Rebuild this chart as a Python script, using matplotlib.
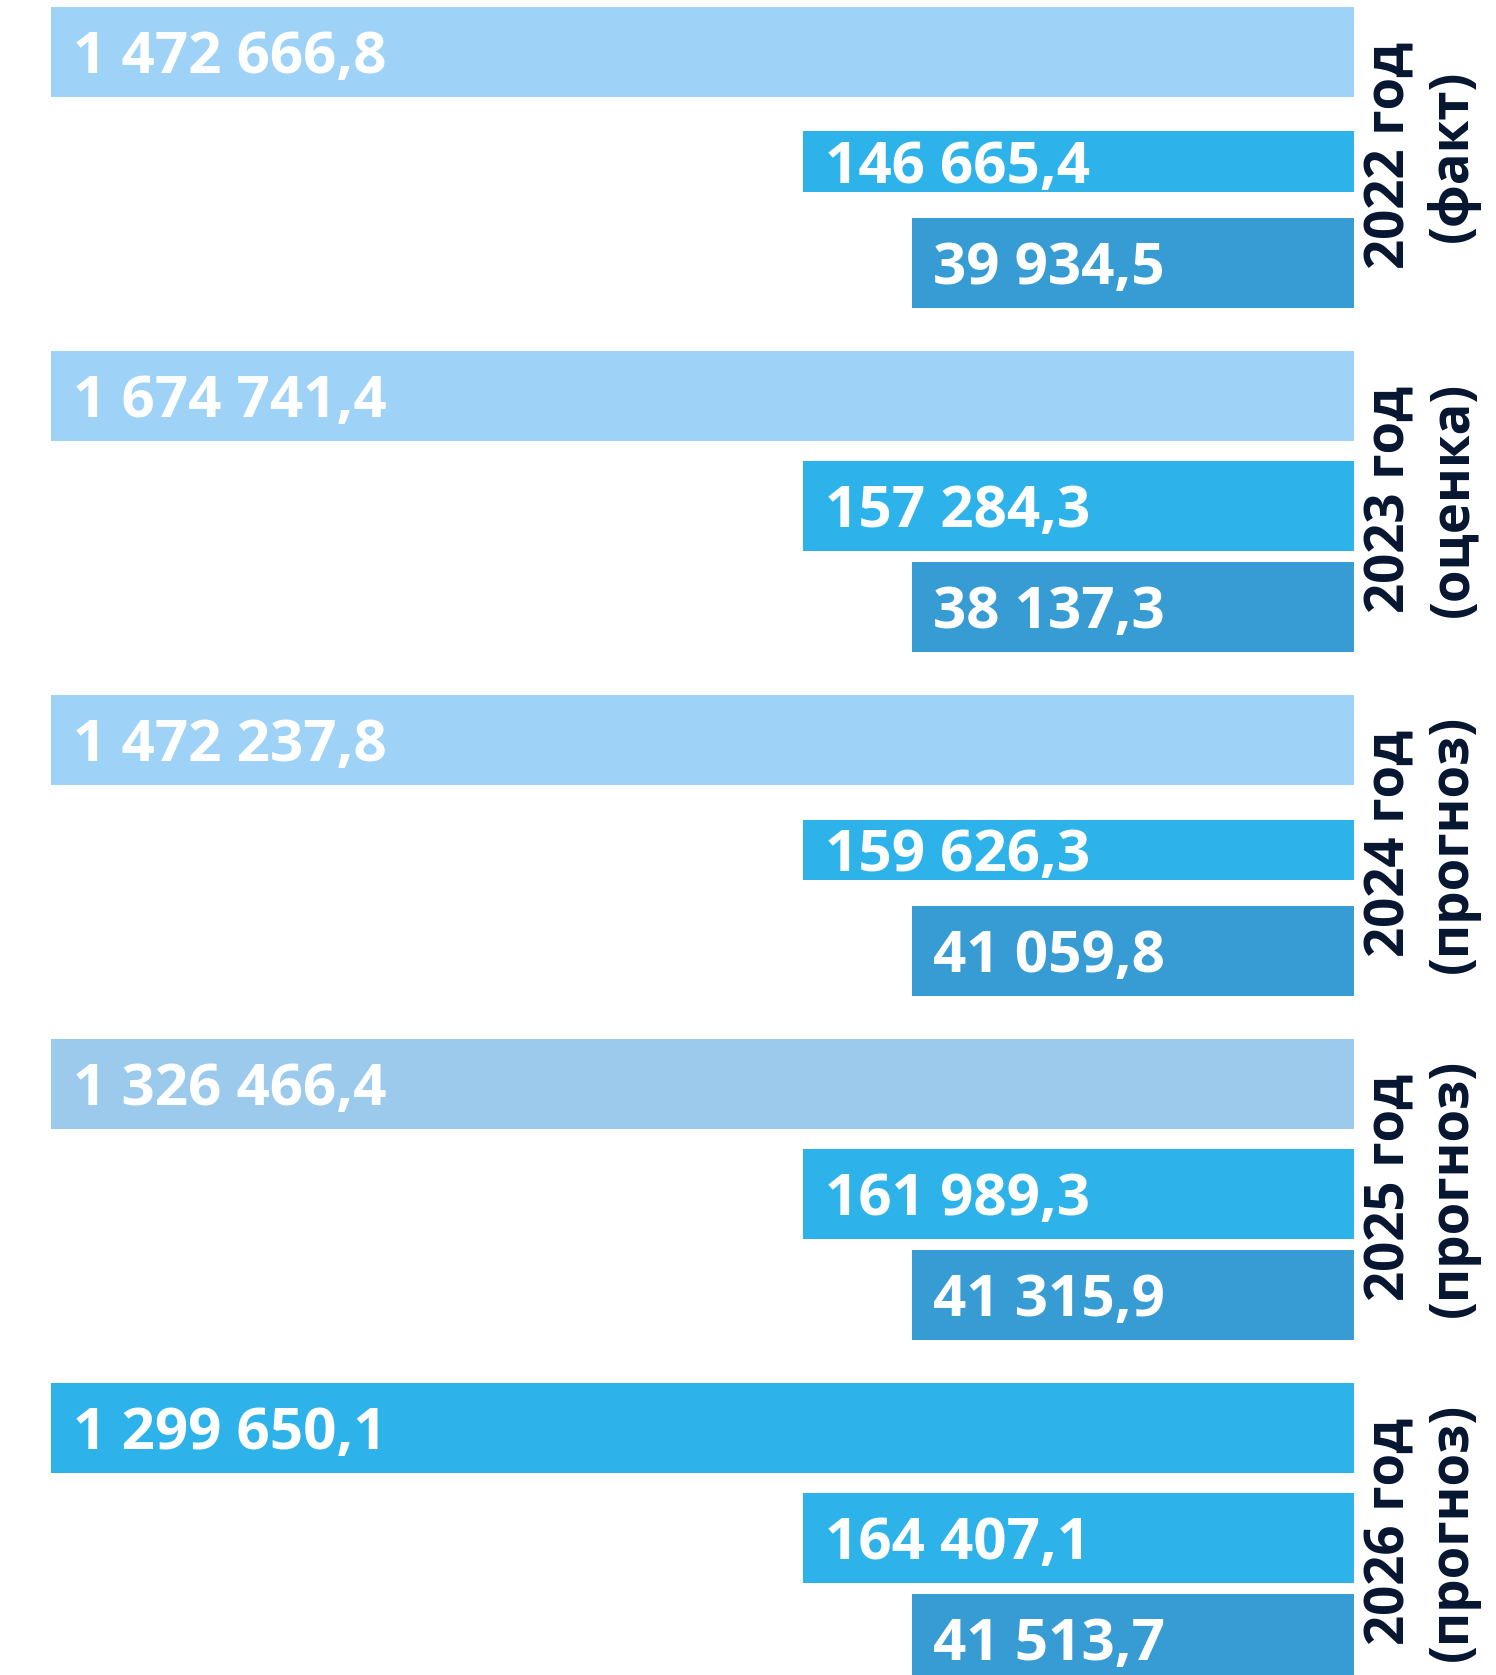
import numpy as np
import matplotlib
matplotlib.use("Agg")
import matplotlib.pyplot as plt
from matplotlib import transforms

# data
years = ["2022 год\n(факт)", "2023 год\n(оценка)", "2024 год\n(прогноз)",
         "2025 год\n(прогноз)", "2026 год\n(прогноз)"]
series_1 = [1472666.8, 1674741.4, 1472237.8, 1326466.4, 1299650.1]
series_2 = [146665.4, 157284.3, 159626.3, 161989.3, 164407.1]
series_3 = [39934.5, 38137.3, 41059.8, 41315.9, 41513.7]

# styles
colors_1 = ["#9ED2F7", "#9ED2F7", "#9ED2F7", "#9BCAEC", "#2DB3EA"]
color_2 = "#2DB3EA"
color_3 = "#369CD3"
text_dark = "#061630"
fonts = ["Open Sans", "DejaVu Sans"]

W, H = 1496, 1675
RIGHT_PX = 1354          # common right edge of all bars
K = 0.01657              # px per unit of the power scale
P = 0.77
BASE = 466000            # hidden baseline, bars grow leftwards from it


def fwd(v):
    v = np.asarray(v, dtype=float)
    return np.sign(v) * np.abs(v) ** P


def inv(u):
    u = np.asarray(u, dtype=float)
    return np.sign(u) * np.abs(u) ** (1 / P)


def fmt(v):
    return f"{v:,.1f}".replace(",", " ").replace(".", ",")


fig = plt.figure(figsize=(W / 100, H / 100), dpi=100)
ax = fig.add_axes([0, 0, 1, 1])
ax.set_xscale("function", functions=(fwd, inv))
ax.set_xlim(float(inv(RIGHT_PX / K - fwd(BASE))),
            float(-inv((W - RIGHT_PX) / K + fwd(BASE))))
ax.set_ylim(H, 0)
ax.axis("off")

# the bars of one series share a length, as in the source graphic
series = [series_1, series_2, series_3]
lengths = [np.mean(s) for s in series]

pitch = 344
first_mid = 161.5
offsets = [-110, 0, 101]
mid_heights = [61, 90, 60, 90, 90]
cap = 43

trans = transforms.blended_transform_factory(ax.transAxes, ax.transData)
for i, year in enumerate(years):
    mid = first_mid + pitch * i
    cols = [colors_1[i], color_2, color_3]
    for j, s in enumerate(series):
        yc = mid + offsets[j]
        h = mid_heights[i] if j == 1 else 90
        ax.barh(yc, lengths[j] + BASE, left=-BASE, height=h,
                color=cols[j], linewidth=0)
        ax.annotate(fmt(s[i]), xy=(lengths[j], yc + cap / 2),
                    xytext=(15.5, 0), textcoords="offset points",
                    ha="left", va="baseline", color="white",
                    fontsize=42, fontweight="bold", family=fonts)
    ax.text(1422 / W, mid - 6, year, transform=trans, rotation=90,
            ha="center", va="center", multialignment="center",
            color=text_dark, fontsize=38, fontweight="bold", family=fonts,
            linespacing=1.2)

fig.savefig("out.png", dpi=100)
